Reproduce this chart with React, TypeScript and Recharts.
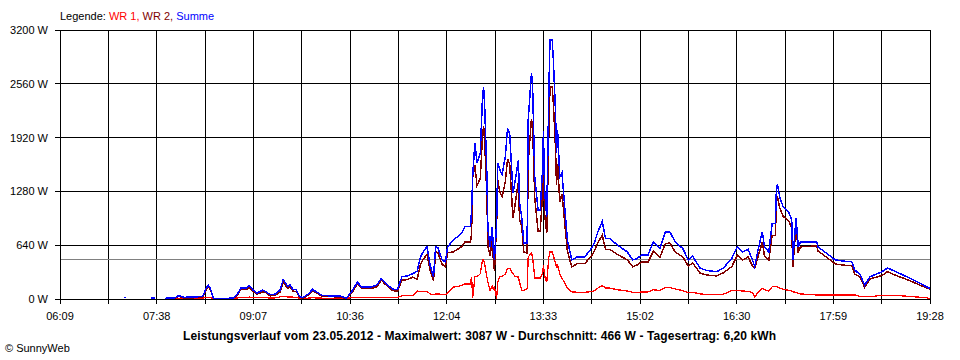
import React from 'react';
import { LineChart, Line, XAxis, YAxis, CartesianGrid, ReferenceLine } from 'recharts';

// minutes since midnight
const times = [
  428, 430, 431, 453, 456, 457, 465, 475,
  478, 483, 493, 500, 503, 505, 507, 510, 521, 528,
  532, 535, 540, 543, 546, 550, 555, 558, 562, 567,
  571, 574, 577, 578, 580, 583, 586, 589, 592, 597,
  601, 605, 610, 617, 626, 632, 637, 642, 646, 654,
  660, 664, 668, 674, 679, 683, 688, 693, 697, 700,
  703, 706, 709, 712, 714, 716, 720, 723, 725, 730,
  734, 738, 741, 746, 747, 748, 750, 752, 755, 757,
  758, 759, 761, 762, 764, 766, 767, 768, 770, 771,
  773, 775, 778, 780, 782, 785, 787, 790, 791, 793,
  795, 798, 799, 802, 803, 805, 808, 810, 812, 813,
  814, 816, 818, 819, 821, 822, 824, 825, 826, 828,
  830, 832, 835, 839, 844, 851, 858, 860, 863, 867,
  870, 874, 881, 890, 895, 899, 903, 909, 914, 920,
  925, 929, 934, 941, 946, 950, 957, 963, 972, 978,
  986, 991, 996, 1001, 1005, 1007, 1010, 1014, 1016, 1020,
  1023, 1026, 1027, 1028, 1030, 1033, 1038, 1041, 1042, 1045,
  1047, 1049, 1064, 1065, 1073, 1081, 1092, 1096, 1099, 1104,
  1108, 1113, 1124, 1129, 1134, 1150, 1165, 1168,
];

// WR 1 (W)
const wr1 = [
  null, null, null, null, null, null, 0, 5,
  10, 8, 10, 12, 15, 18, 15, 2, 3, 5,
  12, 18, 20, 22, 18, 15, 18, 15, 12, 14,
  25, 30, 28, 25, 25, 22, 20, 10, 8, 10,
  15, 12, 10, 10, 10, 5, 18, 20, 18, 18,
  20, 20, 18, 18, 18, 40, 45, 40, 95, 90,
  90, 90, 60, 50, 60, 60, 55, 55, 70, 140,
  150, 160, 180, 180, 265, 10, 265, 265, 300, 465,
  465, 420, 265, 200, 105, 150, 120, 140, 5, 200,
  265, 265, 300, 365, 365, 300, 270, 260, 200, 105,
  105, 120, 500, 545, 500, 250, 250, 250, 300, 400,
  280, 200, 500, 560, 560, 520, 430, 380, 400, 300,
  250, 200, 130, 85, 80, 80, 90, 100, 130, 160,
  130, 130, 110, 95, 80, 75, 85, 85, 110, 100,
  140, 135, 120, 100, 75, 80, 60, 55, 50, 55,
  100, 100, 95, 90, 75, 20, 80, 125, 110, 95,
  145, 145, 150, 145, 130, 115, 105, 95, 85, 80,
  70, 60, 48, 48, 48, 48, 48, 48, 48, 27,
  27, 27, 45, 45, 45, 30, 15, 5,
];

// WR 2 (W)
const wr2 = [
  15, 15, null, 10, 10, null, 8, 10,
  30, 12, 15, 18, 105, 147, 115, 3, 5, 5,
  48, 112, 110, 138, 92, 55, 87, 75, 38, 46,
  80, 200, 147, 125, 145, 93, 90, 20, 7, 50,
  100, 68, 30, 28, 25, 5, 72, 180, 127, 122,
  145, 225, 172, 102, 92, 225, 230, 260, 235, 410,
  480, 530, 340, 215, 560, 550, 410, 385, 550, 560,
  590, 625, 680, 680, 785, 1445, 1590, 1350, 1435, 1935,
  2060, 1880, 1235, 630, 515, 710, 465, 330, 895, 1415,
  1270, 1215, 1395, 1665, 1605, 960, 1130, 1395, 950, 870,
  560, 545, 1630, 2145, 2050, 1205, 810, 810, 1200, 1600,
  1020, 780, 2000, 2520, 2527, 2350, 1820, 1355, 1610, 1150,
  1250, 980, 570, 380, 420, 420, 530, 580, 670, 760,
  590, 590, 530, 465, 385, 405, 440, 440, 570, 500,
  660, 665, 560, 500, 390, 430, 305, 285, 275, 310,
  385, 520, 465, 500, 390, 365, 500, 675, 510, 465,
  755, 755, 1185, 1210, 1085, 985, 935, 845, 380, 885,
  550, 620, 632, 572, 497, 417, 397, 397, 297, 258,
  138, 238, 280, 325, 295, 215, 130, 120,
];

const yTicks = [0, 640, 1280, 1920, 2560, 3200];
const xTickLabels = ['06:09', '07:38', '09:07', '10:36', '12:04', '13:33', '15:02', '16:30', '17:59', '19:28'];
const average = 466;
const title = 'Leistungsverlauf vom 23.05.2012 - Maximalwert: 3087 W - Durchschnitt: 466 W - Tagesertrag: 6,20 kWh';

const start = 369;
const end = 1168;
const xTicks = Array.from({ length: 19 }, (_, i) => start + (i * (end - start)) / 18);

const data = times.map((t, i) => {
  const a = wr1[i];
  const b = wr2[i];
  return { t, wr1: a, wr2: b, sum: a == null && b == null ? null : (a ?? 0) + (b ?? 0) };
});

const font = '"Liberation Sans", Arial, sans-serif';

export default function App() {
  return (
    <div style={{ position: 'absolute', left: 0, top: 0, width: 960, height: 360, background: '#fff', fontFamily: font, shapeRendering: 'crispEdges' }}>
      <div style={{ position: 'absolute', left: 60, top: 10, fontSize: 11, lineHeight: '13px', whiteSpace: 'nowrap' }}>
        <span style={{ color: '#000' }}>Legende: </span>
        <span style={{ color: '#ff0000' }}>WR 1, </span>
        <span style={{ color: '#800000' }}>WR 2, </span>
        <span style={{ color: '#0000ff' }}>Summe</span>
      </div>
      <LineChart width={960} height={360} data={data} margin={{ top: 30, right: 30, bottom: 31, left: 5 }}>
        <CartesianGrid stroke="#000" strokeWidth={1} />
        <XAxis
          dataKey="t"
          type="number"
          domain={[start, end]}
          ticks={xTicks}
          interval={0}
          height={30}
          tickSize={5}
          tickMargin={8}
          stroke="#000"
          tick={{ fill: '#000', fontSize: 11 }}
          tickFormatter={(v: number, i: number) => (i % 2 === 0 ? xTickLabels[i / 2] : '')}
          allowDataOverflow
        />
        <YAxis
          type="number"
          domain={[0, 3200]}
          ticks={yTicks}
          interval={0}
          width={55}
          tickSize={5}
          tickMargin={7}
          stroke="#000"
          tick={{ fill: '#000', fontSize: 11 }}
          tickFormatter={(v: number) => `${v} W`}
        />
        <ReferenceLine y={average} stroke="#808080" strokeWidth={1} />
        <Line type="linear" dataKey="wr1" stroke="#ff0000" strokeWidth={1.3} dot={false} activeDot={false} isAnimationActive={false} />
        <Line type="linear" dataKey="wr2" stroke="#800000" strokeWidth={1.5} dot={false} activeDot={false} isAnimationActive={false} />
        <Line type="linear" dataKey="sum" stroke="#0000ff" strokeWidth={1.5} dot={false} activeDot={false} isAnimationActive={false} />
      </LineChart>
      <div style={{ position: 'absolute', left: 183, top: 329, fontSize: 12, lineHeight: '14px', fontWeight: 'bold', letterSpacing: 0.1, whiteSpace: 'nowrap' }}>
        {title}
      </div>
      <div style={{ position: 'absolute', left: 5, top: 342, fontSize: 11, lineHeight: '13px', whiteSpace: 'nowrap' }}>
        © SunnyWeb
      </div>
    </div>
  );
}
